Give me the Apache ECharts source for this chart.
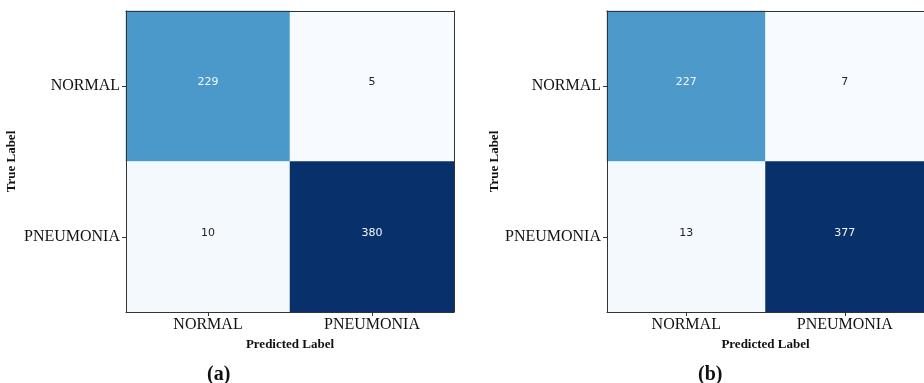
<!DOCTYPE html>
<html>
<head>
<meta charset="utf-8">
<script src="https://cdn.jsdelivr.net/npm/echarts@6/dist/echarts.min.js"></script>
<style>
  html, body { margin: 0; padding: 0; background: #fff; }
  #chart { width: 924px; height: 383px; }
</style>
</head>
<body>
<div id="chart"></div>
<script>
// Class labels shared by both confusion matrices
const predictedLabels = ['NORMAL', 'PNEUMONIA'];
const trueLabels = ['NORMAL', 'PNEUMONIA'];

// Counts as [predicted index, true index, count]
const matrixA = [[0, 0, 229], [1, 0, 5], [0, 1, 10], [1, 1, 380]];
const matrixB = [[0, 0, 227], [1, 0, 7], [0, 1, 13], [1, 1, 377]];

const panelTitles = ['(a)', '(b)'];

// Matplotlib "Blues" colormap stops
const blues = ['#f7fbff', '#deebf7', '#c6dbef', '#9ecae1', '#6baed6',
               '#4292c6', '#2171b5', '#08519c', '#08306b'];

const serif = 'Liberation Serif';
const chart = echarts.init(document.getElementById('chart'));

const grids = [
  { left: 126, top: 11, width: 328, height: 301 },
  { left: 607, top: 11, width: 318, height: 301 }
];
const nameGaps = [108, 106];
const matrices = [matrixA, matrixB];

const xAxes = [], yAxes = [], series = [], visualMaps = [];
matrices.forEach((m, i) => {
  const vals = m.map(d => d[2]);
  const lo = Math.min(...vals), hi = Math.max(...vals);
  const threshold = (lo + hi) / 2;
  xAxes.push({
    type: 'category', gridIndex: i, data: predictedLabels, position: 'bottom', z: 10,
    name: 'Predicted Label', nameLocation: 'middle', nameGap: 20,
    nameTextStyle: { fontFamily: serif, fontWeight: 'bold', fontSize: 13, color: '#111' },
    axisLine: { show: true, lineStyle: { color: '#333', width: 1 } },
    axisTick: { show: true, alignWithLabel: true, length: 4, lineStyle: { color: '#333' } },
    axisLabel: { fontFamily: serif, fontSize: 16, color: '#111', margin: 5 },
    splitLine: { show: false }
  });
  xAxes.push({
    type: 'category', gridIndex: i, data: predictedLabels, position: 'top', z: 10,
    axisLine: { show: true, lineStyle: { color: '#333', width: 1 } },
    axisTick: { show: false }, axisLabel: { show: false }, splitLine: { show: false }
  });
  yAxes.push({
    type: 'category', gridIndex: i, data: trueLabels, inverse: true, position: 'left', z: 10,
    name: 'True Label', nameLocation: 'middle', nameGap: nameGaps[i], nameRotate: 90,
    nameTextStyle: { fontFamily: serif, fontWeight: 'bold', fontSize: 13, color: '#111' },
    axisLine: { show: true, lineStyle: { color: '#333', width: 1 } },
    axisTick: { show: true, alignWithLabel: true, length: 4, lineStyle: { color: '#333' } },
    axisLabel: { fontFamily: serif, fontSize: 16, color: '#111', margin: 6 },
    splitLine: { show: false }
  });
  yAxes.push({
    type: 'category', gridIndex: i, data: trueLabels, inverse: true, position: 'right', z: 10,
    axisLine: { show: true, lineStyle: { color: '#333', width: 1 } },
    axisTick: { show: false }, axisLabel: { show: false }, splitLine: { show: false }
  });
  visualMaps.push({
    type: 'continuous', show: false, seriesIndex: i, dimension: 2,
    min: lo, max: hi, inRange: { color: blues }
  });
  series.push({
    type: 'heatmap', xAxisIndex: i * 2, yAxisIndex: i * 2, z: 2,
    // white text on the darker cells, dark text on the pale ones
    data: m.map(d => ({
      value: d,
      label: { color: d[2] > threshold ? '#f4f8fc' : '#222' }
    })),
    label: {
      show: true,
      fontFamily: 'DejaVu Sans', fontSize: 11,
      offset: [0, -4],
      formatter: p => String(p.value[2])
    },
    itemStyle: { borderWidth: 0 },
    emphasis: { disabled: true }
  });
});

chart.setOption({
  animation: false,
  backgroundColor: '#fff',
  title: [
    { text: panelTitles[0], left: 202, top: 360,
      textStyle: { fontFamily: serif, fontWeight: 'bold', fontSize: 20, color: '#111' } },
    { text: panelTitles[1], left: 693, top: 360,
      textStyle: { fontFamily: serif, fontWeight: 'bold', fontSize: 20, color: '#111' } }
  ],
  grid: grids,
  xAxis: xAxes,
  yAxis: yAxes,
  visualMap: visualMaps,
  series: series
});
</script>
</body>
</html>
